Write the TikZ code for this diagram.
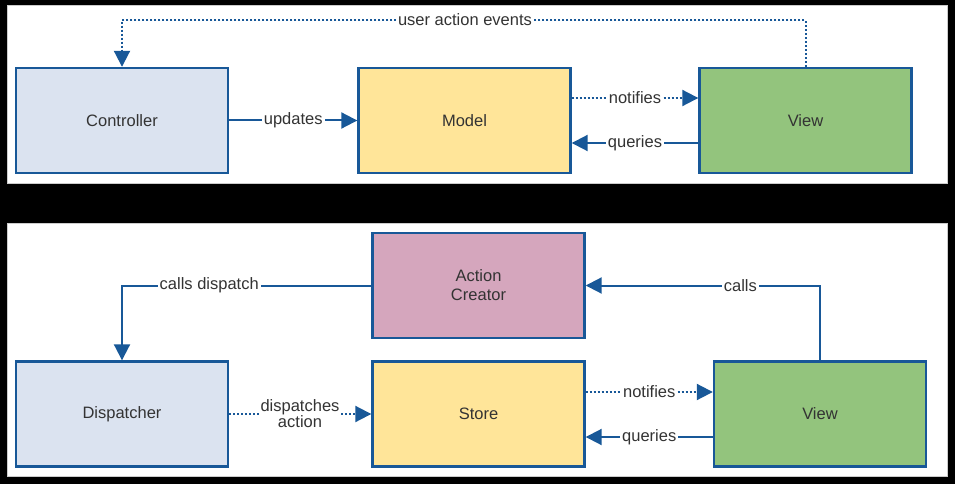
\documentclass[tikz,border=0pt]{standalone}
\usepackage{fontspec}
\setmainfont{Liberation Sans}
\usetikzlibrary{arrows.meta,calc}
\definecolor{bord}{RGB}{24,88,152}
\definecolor{txt}{RGB}{51,51,51}
\definecolor{cblue}{RGB}{219,227,240}
\definecolor{cyellow}{RGB}{255,229,153}
\definecolor{cgreen}{RGB}{147,196,125}
\definecolor{cpink}{RGB}{213,166,189}
\tikzset{
  box/.style={draw=bord, line width=2.4pt, minimum width=212pt, minimum height=105pt,
    inner sep=0pt, text=txt, font=\fontsize{16.5}{19}\selectfont, align=center},
  conn/.style={draw=bord, line width=2pt, -{Triangle[length=16pt,width=16pt]}},
  dots/.style={dash pattern=on 2pt off 2pt},
  lbl/.style={fill=white, text=txt, inner sep=2pt, font=\fontsize{16.5}{19}\selectfont, align=center},
  panel/.style={fill=white, draw=black!20, line width=0.8pt}
}
\begin{document}
\begin{tikzpicture}[x=1pt,y=-1pt]
\fill[black] (0,0) rectangle (955,484);
\useasboundingbox (0,0) rectangle (955,484);
\draw[panel] (7,5) rectangle (947,183);
\draw[panel] (7,223) rectangle (947,476);
% top
\node[box, fill=cblue]   (ctrl)  at (122,120.5)   {Controller};
\node[box, fill=cyellow] (model) at (464.5,120.5) {Model};
\node[box, fill=cgreen]  (view1) at (805.5,120.5) {View};
\coordinate (topline) at (465,20);
\draw[conn, dots] (view1.north) |- (topline) node[lbl]{user action events} -| (ctrl.north);
\draw[conn] (ctrl.east) -- node[lbl]{updates} (model.west);
\draw[conn, dots] ([yshift=22.5pt]model.east) -- node[lbl]{notifies} ([yshift=22.5pt]view1.west);
\draw[conn] ([yshift=-22.5pt]view1.west) -- node[lbl]{queries} ([yshift=-22.5pt]model.east);
% bottom
\node[box, fill=cpink]   (ac)    at (478.5,285.5) {Action\\Creator};
\node[box, fill=cblue]   (disp)  at (122,414)     {Dispatcher};
\node[box, fill=cyellow] (store) at (478.5,414)   {Store};
\node[box, fill=cgreen]  (view2) at (820,414)     {View};
\draw[conn] (ac.west) -| node[lbl, pos=0.325]{calls dispatch} (disp.north);
\draw[conn] (view2.north) |- node[lbl, pos=0.67]{calls} (ac.east);
\draw[conn, dots] (disp.east) -- node[lbl, fill=none, text opacity=1]{\phantom{dispatches}} (store.west);
\node[lbl, inner sep=1pt] (dalbl) at (300,414) {dispatches\\[-3pt]action};
\draw[conn, dots] ([yshift=22pt]store.east) -- node[lbl]{notifies} ([yshift=22pt]view2.west);
\draw[conn] ([yshift=-23pt]view2.west) -- node[lbl]{queries} ([yshift=-23pt]store.east);
\end{tikzpicture}
\end{document}
